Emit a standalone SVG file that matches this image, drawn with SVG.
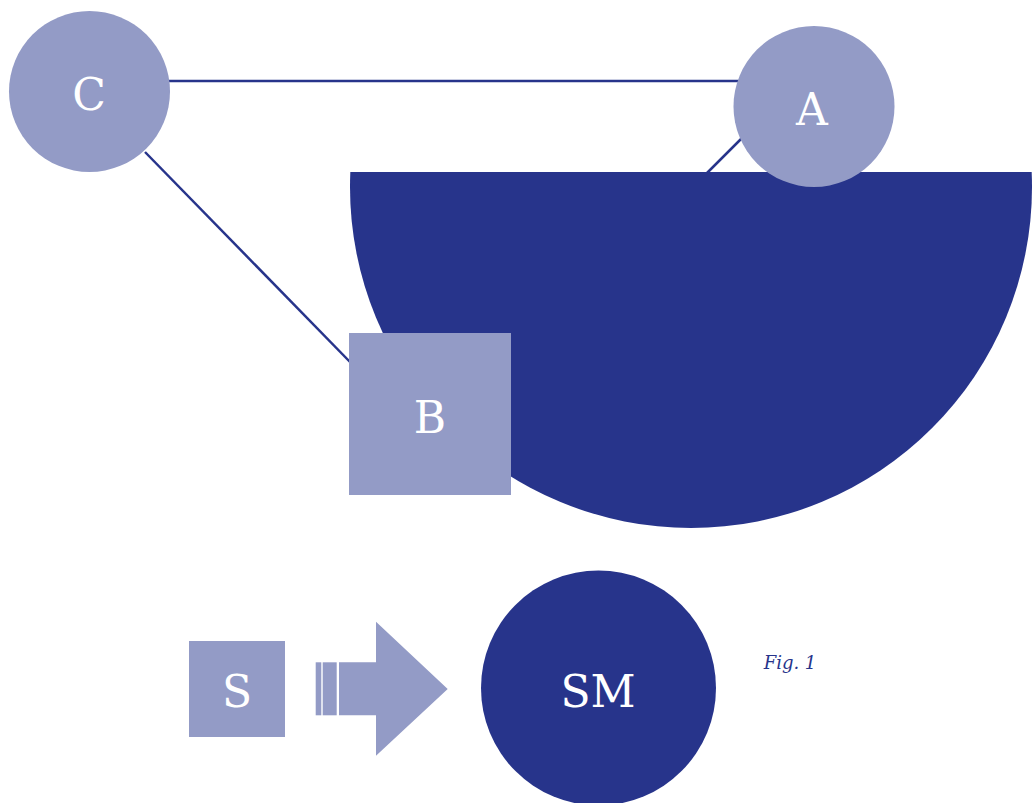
<svg xmlns="http://www.w3.org/2000/svg" width="1032" height="803" viewBox="0 0 1032 803">
<defs>
<style>
.light{fill:#939bc6}
.dark{fill:#27348b}
.lbl{fill:#ffffff;font-family:"DejaVu Serif","Liberation Serif",serif;font-size:44px;text-anchor:middle}
.edge{stroke:#27348b;stroke-width:2.5;fill:none}
</style>
<clipPath id="halfclip"><rect x="0" y="172" width="1032" height="631"/></clipPath>
</defs>
<rect width="1032" height="803" fill="#ffffff"/>
<g id="connectors">
<line class="edge" x1="165" y1="81" x2="745" y2="81"/>
<line class="edge" x1="145" y1="152" x2="352" y2="364"/>
<line class="edge" x1="742" y1="138" x2="600" y2="280"/>
</g>
<g id="halfcircle">
<circle class="dark" cx="691" cy="187" r="341" clip-path="url(#halfclip)"/>
</g>
<g id="node-C">
<circle class="light" cx="89.5" cy="91.5" r="80.5"/>
<text class="lbl" x="89" y="110">C</text>
</g>
<g id="node-A">
<circle class="light" cx="814" cy="106.5" r="80.5"/>
<text class="lbl" x="812" y="125">A</text>
</g>
<g id="node-B">
<rect class="light" x="349" y="333" width="162" height="162"/>
<text class="lbl" x="430" y="433">B</text>
</g>
<g id="node-S">
<rect class="light" x="189" y="641" width="96" height="96"/>
<text class="lbl" x="237" y="707">S</text>
</g>
<g id="arrow">
<rect class="light" x="315.7" y="662.3" width="5.6" height="53"/>
<rect class="light" x="322.7" y="662.3" width="14" height="53"/>
<polygon class="light" points="339,662.3 376,662.3 376,621.7 447.7,689 376,755.7 376,715.3 339,715.3"/>
</g>
<g id="node-SM">
<circle class="dark" cx="598.5" cy="688" r="117.5"/>
<text class="lbl" x="598" y="707">SM</text>
</g>
<text x="790" y="669" fill="#27348b" font-family="DejaVu Serif, Liberation Serif, serif" font-style="italic" font-size="18" text-anchor="middle">Fig. 1</text>
</svg>
